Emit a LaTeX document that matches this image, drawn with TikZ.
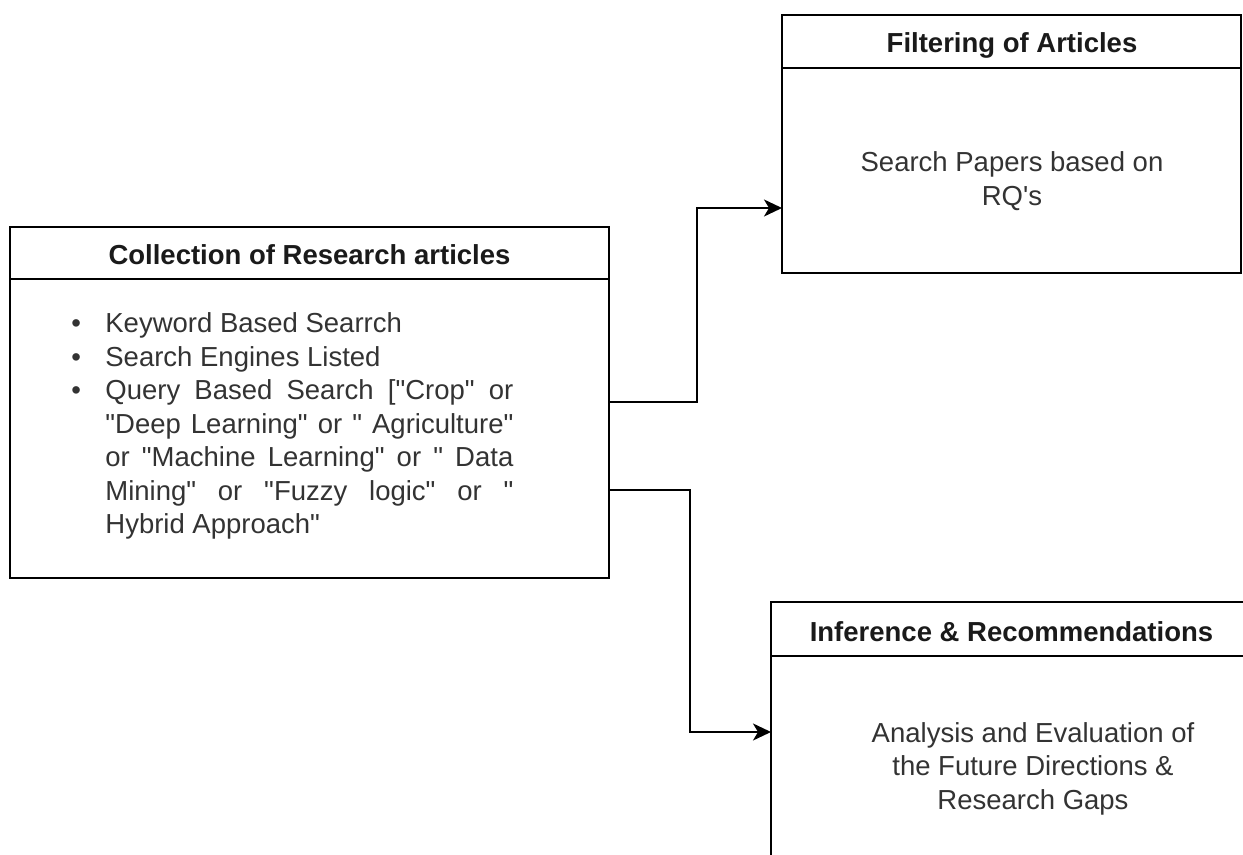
\documentclass[tikz,border=0pt]{standalone}
\usepackage{fontspec}
\setmainfont{Liberation Sans}[Ligatures=TeXOff]
\usetikzlibrary{arrows.meta}
\definecolor{bodygray}{HTML}{333333}
\definecolor{titlegray}{HTML}{1A1A1A}
\newcommand{\bodyfont}{\fontsize{13.75pt}{16.75pt}\selectfont}
\newcommand{\blt}{\makebox[17pt][l]{\textbullet}}
\begin{document}
\begin{tikzpicture}[x=0.5pt,y=-0.5pt,
  boxshape/.style={draw=black, line width=1pt, rectangle, inner sep=0pt},
  titletxt/.style={font=\bodyfont\bfseries, text=titlegray, inner sep=0pt, anchor=base},
  bodytxt/.style={font=\bodyfont, text=bodygray, inner sep=0pt},
  sepline/.style={draw=black, line width=1pt},
  conn/.style={draw=black, line width=1pt, -{Stealth[length=9pt,width=8.5pt,inset=2.5pt]}}]
\useasboundingbox (0,0) rectangle (1243,855);
\clip (0,0) rectangle (1243,855);
\fill[white] (0,0) rectangle (1243,855);

% boxes
\node[boxshape, minimum width=299.5pt, minimum height=175.5pt] (b1) at (309.5,402.5) {};
\node[boxshape, minimum width=229.5pt, minimum height=129pt] (b2) at (1011.5,144) {};
\node[boxshape, minimum width=240.5pt, minimum height=149pt] (b3) at (1011.5,751) {};

% header separators
\draw[sepline] ([yshift=-26.5pt]b1.north west) -- ([yshift=-26.5pt]b1.north east);
\draw[sepline] ([yshift=-27pt]b2.north west) -- ([yshift=-27pt]b2.north east);
\draw[sepline] ([yshift=-27.5pt]b3.north west) -- ([yshift=-27.5pt]b3.north east);

% titles
\node[titletxt] (t1) at (309.5,265) {Collection of Research articles};
\node[titletxt] (t2) at (1012,53) {Filtering of Articles};
\node[titletxt] (t3) at (1011.5,641) {Inference \& Recommendations};

% body of box 1
\node[bodytxt, anchor=base west] (list) at (71,333) {\parbox[t]{240pt}{\bodyfont\parindent=0pt
\blt Keyword Based Searrch\par
\blt Search Engines Listed\par
\blt\makebox[204pt][s]{Query Based Search ["Crop" or}\par
\hspace*{17pt}\makebox[204pt][s]{"Deep Learning" or " Agriculture"}\par
\hspace*{17pt}\makebox[204pt][s]{or "Machine Learning" or " Data}\par
\hspace*{17pt}\makebox[204pt][s]{Mining" or "Fuzzy logic" or "}\par
\hspace*{17pt}Hybrid Approach"\par}};

% body of box 2
\node[bodytxt, anchor=base] (p2) at (1012,172) {\parbox[t]{220pt}{\bodyfont\centering
Search Papers based on\\RQ's\par}};

% body of box 3
\node[bodytxt, anchor=base] (p3) at (1033,742) {\parbox[t]{220pt}{\bodyfont\centering
Analysis and Evaluation of\\the Future Directions \&\\Research Gaps\par}};

% connectors
\coordinate (in2) at (782,208);
\coordinate (out2) at (609,490);
\coordinate (in3) at (771,732);
\draw[conn] (b1.east) -- ++(87,0) |- (in2);
\draw[conn] (out2) -- ++(81,0) |- (in3);
\end{tikzpicture}
\end{document}
